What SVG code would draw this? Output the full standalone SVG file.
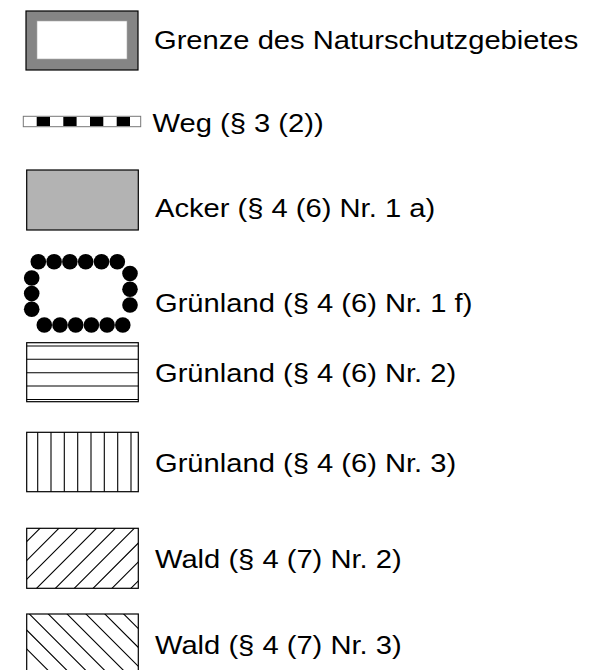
<svg xmlns="http://www.w3.org/2000/svg" width="598" height="670" viewBox="0 0 598 670">
<style>
.lbl{font-family:"Liberation Sans",Arial,sans-serif;font-size:26.5px;fill:#000}
.box{fill:none;stroke:#000;stroke-width:1.2}
.hl{stroke:#000;stroke-width:1.1}
.dot{fill:#000}
</style>
<defs>
<clipPath id="c1"><rect x="26.7" y="528.3" width="111.6" height="60"/></clipPath>
<clipPath id="c2"><rect x="26.7" y="614" width="111.6" height="60"/></clipPath>
</defs>
<rect width="598" height="670" fill="#fff"/>
<g id="grenze">
<rect x="26" y="11" width="112" height="59" fill="#858585" stroke="#000" stroke-width="1.2"/>
<rect x="37" y="21" width="90" height="38" fill="#fff" stroke="#aaa" stroke-width="0.6"/>
<text class="lbl" transform="translate(154 49) scale(1.1 1)">Grenze des Naturschutzgebietes</text>
</g>
<g id="weg">
<rect x="23.3" y="116.3" width="117.4" height="10.4" fill="#fff" stroke="#777" stroke-width="1"/>
<rect x="36.7" y="117" width="13.3" height="9" fill="#000"/>
<rect x="63.3" y="117" width="13.3" height="9" fill="#000"/>
<rect x="90" y="117" width="13.3" height="9" fill="#000"/>
<rect x="116.7" y="117" width="13.3" height="9" fill="#000"/>
<text class="lbl" transform="translate(152.5 131.5) scale(1.1 1)">Weg (§ 3 (2))</text>
</g>
<g id="acker">
<rect x="26.7" y="170" width="111.6" height="60" fill="#b3b3b3" stroke="#000" stroke-width="1.2"/>
<text class="lbl" transform="translate(155 217) scale(1.1 1)">Acker (§ 4 (6) Nr. 1 a)</text>
</g>
<g id="gruenland1f">
<circle class="dot" cx="38.3" cy="261.7" r="7.8"/>
<circle class="dot" cx="54.1" cy="261.7" r="7.8"/>
<circle class="dot" cx="69.9" cy="261.7" r="7.8"/>
<circle class="dot" cx="85.7" cy="261.7" r="7.8"/>
<circle class="dot" cx="101.5" cy="261.7" r="7.8"/>
<circle class="dot" cx="117.3" cy="261.7" r="7.8"/>
<circle class="dot" cx="31.7" cy="278" r="7.8"/>
<circle class="dot" cx="31.7" cy="293.6" r="7.8"/>
<circle class="dot" cx="31.7" cy="309.2" r="7.8"/>
<circle class="dot" cx="130" cy="273.5" r="7.8"/>
<circle class="dot" cx="130" cy="289.2" r="7.8"/>
<circle class="dot" cx="130" cy="305" r="7.8"/>
<circle class="dot" cx="44.3" cy="325" r="7.8"/>
<circle class="dot" cx="60" cy="325" r="7.8"/>
<circle class="dot" cx="75.7" cy="325" r="7.8"/>
<circle class="dot" cx="91.4" cy="325" r="7.8"/>
<circle class="dot" cx="107.1" cy="325" r="7.8"/>
<circle class="dot" cx="122.8" cy="325" r="7.8"/>
<text class="lbl" transform="translate(155 312) scale(1.1 1)">Grünland (§ 4 (6) Nr. 1 f)</text>
</g>
<g id="gruenland2">
<rect class="box" x="26.7" y="342.7" width="111.6" height="59"/>
<path class="hl" d="M26.7 346H138.3M26.7 359.3H138.3M26.7 372.7H138.3M26.7 386H138.3M26.7 399.5H138.3"/>
<text class="lbl" transform="translate(155 382) scale(1.1 1)">Grünland (§ 4 (6) Nr. 2)</text>
</g>
<g id="gruenland3">
<rect class="box" x="26.7" y="432.3" width="111.6" height="59.4"/>
<path class="hl" d="M37.7 432.3V491.7M51 432.3V491.7M64.3 432.3V491.7M77.7 432.3V491.7M91 432.3V491.7M104.3 432.3V491.7M117.7 432.3V491.7M131 432.3V491.7"/>
<text class="lbl" transform="translate(155 472) scale(1.1 1)">Grünland (§ 4 (6) Nr. 3)</text>
</g>
<g id="wald2">
<g clip-path="url(#c1)">
<path class="hl" d="M-40 608.3L100 468.3M-21.1 608.3L118.9 468.3M-2.3 608.3L137.7 468.3M16.6 608.3L156.6 468.3M35.4 608.3L175.4 468.3M54.3 608.3L194.3 468.3M73.1 608.3L213.1 468.3M92 608.3L232 468.3M110.9 608.3L250.9 468.3M129.7 608.3L269.7 468.3"/>
</g>
<rect class="box" x="26.7" y="528.3" width="111.6" height="60"/>
<text class="lbl" transform="translate(155 568) scale(1.1 1)">Wald (§ 4 (7) Nr. 2)</text>
</g>
<g id="wald3">
<g clip-path="url(#c2)">
<path class="hl" d="M-68.3 554L51.7 674M-49.4 554L70.6 674M-30.6 554L89.4 674M-11.7 554L108.3 674M7.1 554L127.1 674M26 554L146 674M44.9 554L164.9 674M63.7 554L183.7 674M82.6 554L202.6 674M101.4 554L221.4 674M120.3 554L240.3 674"/>
</g>
<rect class="box" x="26.7" y="614" width="111.6" height="60"/>
<text class="lbl" transform="translate(155 654) scale(1.1 1)">Wald (§ 4 (7) Nr. 3)</text>
</g>
</svg>
